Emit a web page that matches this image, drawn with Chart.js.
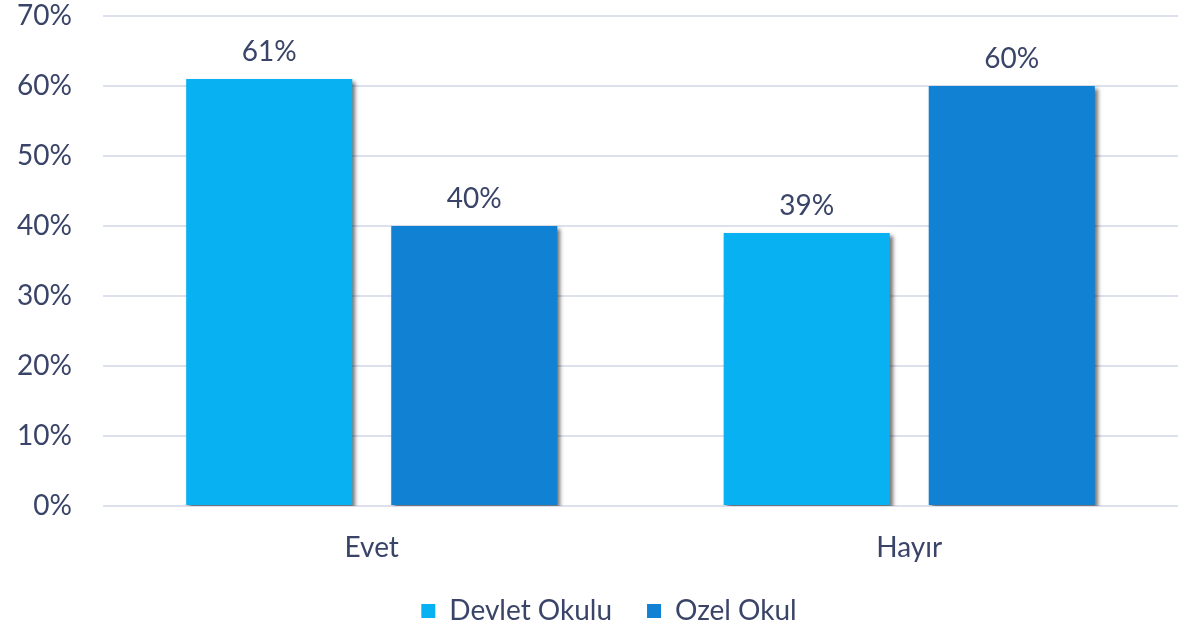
<!DOCTYPE html>
<html>
<head>
<meta charset="utf-8">
<script src="https://cdn.jsdelivr.net/npm/chart.js@4"></script>
<style>
html,body{margin:0;padding:0;background:#fff;}
#wrap{width:1203px;height:624px;}
</style>
</head>
<body>
<div id="wrap"><canvas id="c" width="1203" height="624"></canvas></div>
<script>
const categories = ["Evet", "Hayır"];
const devletOkulu = [61, 39];
const ozelOkul = [40, 60];
const seriesNames = ["Devlet Okulu", "Ozel Okul"];
const yTicks = [0, 10, 20, 30, 40, 50, 60, 70];

const FONT = "Lato";
const TEXT = "#3A4468";
const FS = 28;

const shadowPlugin = {
  id: 'barShadow',
  beforeDatasetsDraw(chart) {
    const ctx = chart.ctx;
    ctx.save();
    ctx.shadowColor = 'rgba(0,0,0,0.55)';
    ctx.shadowBlur = 4;
    ctx.shadowOffsetX = 3;
    ctx.shadowOffsetY = 3;
  },
  afterDatasetsDraw(chart) {
    chart.ctx.restore();
  }
};

const legendShift = {
  id: 'legendShift',
  afterLayout(chart) {
    if (chart.legend) {
      chart.legend.left += 20;
      chart.legend.right += 20;
    }
  }
};

const labelPlugin = {
  id: 'valueLabels',
  afterDraw(chart) {
    const ctx = chart.ctx;
    ctx.save();
    ctx.font = FS + "px " + FONT;
    ctx.fillStyle = TEXT;
    ctx.textAlign = 'center';
    ctx.textBaseline = 'middle';
    chart.data.datasets.forEach((ds, i) => {
      const meta = chart.getDatasetMeta(i);
      meta.data.forEach((bar, j) => {
        ctx.fillText(ds.data[j] + '%', bar.x, bar.y - 27);
      });
    });
    ctx.restore();
  }
};

new Chart(document.getElementById('c'), {
  type: 'bar',
  data: {
    labels: categories,
    datasets: [
      { label: seriesNames[0], data: devletOkulu, backgroundColor: '#08B1F1', borderWidth: 0 },
      { label: seriesNames[1], data: ozelOkul, backgroundColor: '#1181D3', borderWidth: 0 }
    ]
  },
  options: {
    responsive: false,
    animation: false,
    devicePixelRatio: 1,
    categoryPercentage: 0.763,
    barPercentage: 0.81,
    layout: { padding: { top: 16, right: 25, left: 0, bottom: 0 } },
    plugins: {
      legend: {
        position: 'bottom',
        maxHeight: 62,
        labels: {
          font: { family: FONT, size: FS },
          color: TEXT,
          boxWidth: 14,
          boxHeight: 14,
          padding: 35,
          generateLabels(chart) {
            return chart.data.datasets.map((ds, i) => ({
              text: ds.label,
              fillStyle: ds.backgroundColor,
              strokeStyle: ds.backgroundColor,
              lineWidth: 0,
              fontColor: TEXT,
              datasetIndex: i
            }));
          }
        }
      },
      tooltip: { enabled: false }
    },
    scales: {
      x: {
        grid: { display: false, drawTicks: false },
        border: { display: false },
        ticks: { font: { family: FONT, size: FS }, color: TEXT, padding: 25 },
        afterFit(scale) { scale.height = 56; scale.paddingLeft = 0; scale.paddingRight = 0; }
      },
      y: {
        min: 0,
        max: 70,
        afterFit(scale) { scale.width = 103; scale.paddingTop = 0; scale.paddingBottom = 0; },
        afterBuildTicks(scale) { scale.ticks = yTicks.map(v => ({ value: v })); },
        grid: { color: '#DDE1EE', lineWidth: 2, drawTicks: false },
        border: { display: false },
        ticks: {
          font: { family: FONT, size: FS },
          color: TEXT,
          padding: 31,
          callback: v => v + '%'
        }
      }
    }
  },
  plugins: [shadowPlugin, legendShift, labelPlugin]
});
</script>
</body>
</html>
